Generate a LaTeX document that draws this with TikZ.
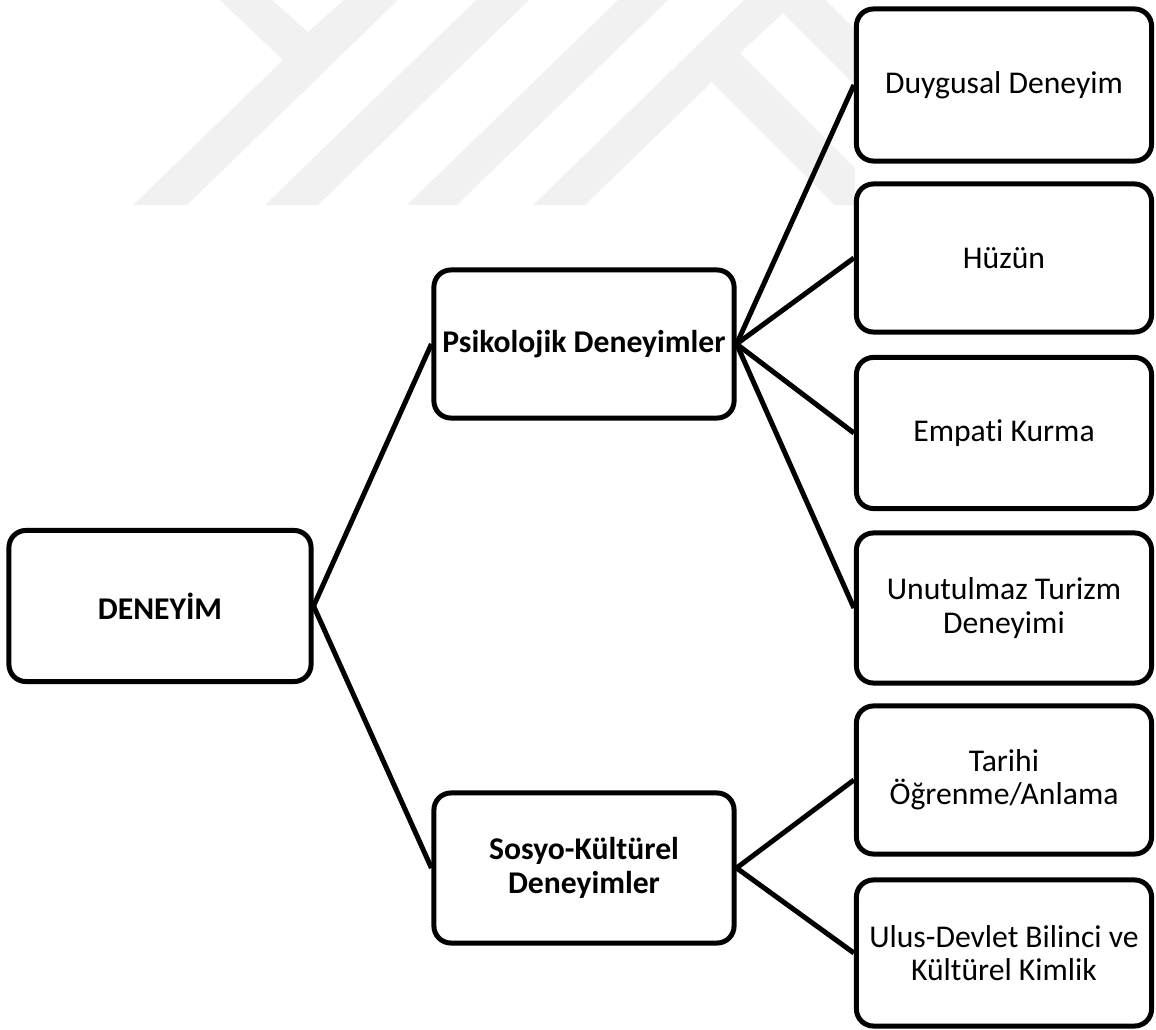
\documentclass[tikz,border=0pt]{standalone}
\usepackage{fontspec}
\setmainfont{Carlito}[Ligatures=NoCommon]
\definecolor{wmgray}{RGB}{241,241,241}
\begin{document}
\begin{tikzpicture}[x=0.01cm, y=-0.01cm, line width=1.42pt,
    every node/.style={font=\fontsize{9}{9.5}\selectfont, align=center, inner sep=.5mm},
    box/.style={draw, rounded corners=0.17cm, fill=white, minimum width=2.95cm, minimum height=1.48cm},
    mainbox/.style={box, font=\fontsize{9}{9.5}\selectfont\bfseries, minimum width=3cm}]
  \useasboundingbox (0,0) rectangle (1156,1030);
  % faint watermark behind the boxes
  \begin{scope}
    \clip (0,0) rectangle (855,205);
    \fill[wmgray] (133,205) -- (283,60) -- (220,0) -- (272,0) -- (308,32) -- (344,0) -- (398,0) -- (187,205) -- cycle;
    \fill[wmgray] (265,205) -- (476,0) -- (529,0) -- (318,205) -- cycle;
    \fill[wmgray] (407,205) -- (618,0) -- (668,0) -- (457,205) -- cycle;
    \fill[wmgray] (533,205) -- (744,0) -- (826,0) -- (1031,205) -- (975,205) -- (783,13) -- (740,53)
      -- (892,205) -- (835,205) -- (712,82) -- (585,205) -- cycle;
  \end{scope}
  % boxes
  \node [mainbox, minimum width=3.02cm, minimum height=1.51cm] (deneyim) at (160,606) {DENEYİM};
  \node [mainbox] (psiko) at (584,344) {Psikolojik Deneyimler};
  \node [mainbox, minimum height=1.5cm] (sosyo) at (584,868) {Sosyo-Kültürel\\Deneyimler};
  \node [box, minimum height=1.52cm] (duygu) at (1004,85) {Duygusal Deneyim};
  \node [box] (huzun) at (1004,258) {Hüzün};
  \node [box, minimum height=1.51cm] (empati) at (1004,433) {Empati Kurma};
  \node [box, minimum height=1.5cm] (unut) at (1004,608) {Unutulmaz Turizm\\Deneyimi};
  \node [box] (tarih) at (1004,780) {Tarihi\\Öğrenme/Anlama};
  \node [box, minimum height=1.46cm] (ulus) at (1004,953) {Ulus-Devlet Bilinci ve\\Kültürel Kimlik};
  % connectors
  \draw (deneyim.east) -- (psiko.west);
  \draw (deneyim.east) -- (sosyo.west);
  \draw (psiko.east) -- (duygu.west);
  \draw (psiko.east) -- (huzun.west);
  \draw (psiko.east) -- (empati.west);
  \draw (psiko.east) -- (unut.west);
  \draw (sosyo.east) -- (tarih.west);
  \draw (sosyo.east) -- (ulus.west);
\end{tikzpicture}
\end{document}
